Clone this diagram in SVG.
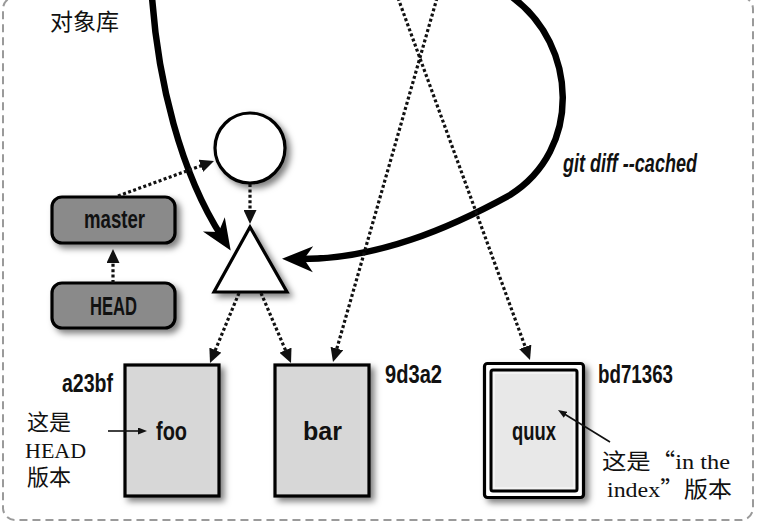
<svg xmlns="http://www.w3.org/2000/svg" width="757" height="524" viewBox="0 0 757 524">
<defs>
<style>
.lbl{font-family:"Liberation Sans",Arial,sans-serif;font-weight:bold;font-size:25px;fill:#111}
.cjk{font-family:"Noto Sans CJK SC",sans-serif;font-size:23px;fill:#111}
.ser{font-family:"Liberation Serif","Noto Sans CJK SC",serif;font-size:22px;fill:#111}
.q{font-family:"Noto Sans CJK SC",serif}
.dot{fill:none;stroke:#111;stroke-width:3.2;stroke-dasharray:3 2.4;marker-end:url(#ah)}
.bold{fill:none;stroke:#000;stroke-width:6.5;marker-end:url(#bh)}
.thin{fill:none;stroke:#111;stroke-width:1.6;marker-end:url(#th)}
.shape{stroke:#000;stroke-width:3.2;filter:url(#sh)}
</style>
<filter id="sh" x="-30%" y="-30%" width="170%" height="170%">
<feDropShadow dx="4" dy="4" stdDeviation="3" flood-color="#000" flood-opacity="0.5"/>
</filter>
<marker id="ah" markerUnits="userSpaceOnUse" viewBox="0 0 14 13" markerWidth="14" markerHeight="13" refX="2" refY="6.5" orient="auto">
<path d="M0,0 L14,6.5 L0,13 Z" fill="#111"/>
</marker>
<marker id="th" markerUnits="userSpaceOnUse" viewBox="0 0 9 7" markerWidth="9" markerHeight="7" refX="1" refY="3.5" orient="auto">
<path d="M0,0 L9,3.5 L0,7 Z" fill="#111"/>
</marker>
<marker id="bh" markerUnits="userSpaceOnUse" viewBox="-10 -14 33 28" markerWidth="33" markerHeight="28" refX="6" refY="0" orient="auto">
<path d="M22,0 L-9,-13 L0,0 L-9,13 Z" fill="#000"/>
</marker>
</defs>

<rect id="frame" x="3" y="-3" width="750" height="523" rx="12" fill="none" stroke="#9a9a9a" stroke-width="2" stroke-dasharray="8 5"/>
<text class="cjk" x="50" y="30" font-size="24">对象库</text>

<g id="commit">
<circle class="shape" cx="250" cy="148" r="35" fill="#fff"/>
</g>
<g id="tree">
<polygon class="shape" points="250,227 214,292 287,292" fill="#fff" stroke-linejoin="miter"/>
</g>
<g id="master">
<rect class="shape" x="52" y="197" width="123" height="46" rx="10" fill="#8a8a8a"/>
<text class="lbl" x="84" y="228" textLength="61" lengthAdjust="spacingAndGlyphs">master</text>
</g>
<g id="HEAD">
<rect class="shape" x="52" y="283" width="123" height="45" rx="10" fill="#8a8a8a"/>
<text class="lbl" x="90" y="315" textLength="47" lengthAdjust="spacingAndGlyphs">HEAD</text>
</g>
<g id="foo">
<rect class="shape" x="125" y="365" width="94" height="131" fill="#d7d7d7"/>
<text class="lbl" x="156" y="440" textLength="31" lengthAdjust="spacingAndGlyphs">foo</text>
<text class="lbl" x="62" y="392" textLength="51" lengthAdjust="spacingAndGlyphs">a23bf</text>
</g>
<g id="bar">
<rect class="shape" x="275" y="365" width="94" height="131" fill="#d7d7d7"/>
<text class="lbl" x="303" y="440" textLength="39" lengthAdjust="spacingAndGlyphs">bar</text>
<text class="lbl" x="385" y="383" textLength="57" lengthAdjust="spacingAndGlyphs">9d3a2</text>
</g>
<g id="quux">
<rect class="shape" x="484.5" y="363.5" width="99" height="134" rx="3" fill="#fff" stroke-width="4"/>
<rect x="491" y="370" width="86" height="121" rx="2" fill="#e8e8e8" stroke="#000" stroke-width="3"/>
<rect x="494" y="373" width="80" height="115" fill="none" stroke="#f6f6f6" stroke-width="1.5"/>
<text class="lbl" x="512" y="440" textLength="44" lengthAdjust="spacingAndGlyphs">quux</text>
<text class="lbl" x="598" y="383" textLength="75" lengthAdjust="spacingAndGlyphs">bd71363</text>
</g>

<g id="connectors">
<path class="bold" d="M152,-3 C158,80 180,172 222,237"/>
<path class="bold" d="M512,-3 C578,45 582,150 510,195 C450,228 376,260 298,259"/>
<path class="dot" d="M113,283 L113,261"/>
<path class="dot" d="M118,196 L202.7,165.1"/>
<path class="dot" d="M250,184 L250,212"/>
<path class="dot" d="M239,293 L214.6,351.9"/>
<path class="dot" d="M261,293 L286.3,352"/>
<path class="dot" d="M398,-2 L525.9,348.7"/>
<path class="dot" d="M437,-2 L336.3,350.5"/>
<path class="thin" d="M108,431 L139,431"/>
<path class="thin" d="M610,442 L564.8,414.2"/>
<text class="lbl" x="563" y="172" font-style="italic" font-size="21" textLength="134" lengthAdjust="spacingAndGlyphs">git diff --cached</text>
</g>

<g id="note-head">
<text class="ser" x="27" y="430">这是</text>
<text class="ser" x="25" y="458" font-size="21">HEAD</text>
<text class="ser" x="27" y="485">版本</text>
</g>
<g id="note-index">
<text class="ser" x="602" y="469" textLength="128" lengthAdjust="spacingAndGlyphs">这是<tspan class="q">“</tspan>in the</text>
<text class="ser" x="607" y="497" textLength="125" lengthAdjust="spacingAndGlyphs">index<tspan class="q">”</tspan>版本</text>
</g>
</svg>
